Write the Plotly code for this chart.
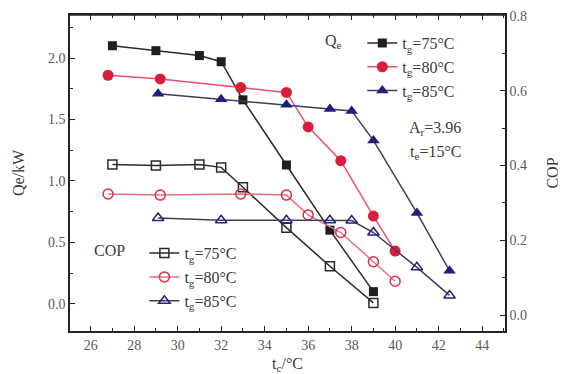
import plotly.graph_objects as go

# Condensing temperature tc (°C) per series
tc_75 = [27, 29, 31, 32, 33, 35, 37, 39]
tc_80 = [26.8, 29.2, 32.9, 35, 36, 37.5, 39, 40]
tc_85 = [29.1, 32, 35, 37, 38, 39, 41, 42.5]

# Cooling capacity Qe (kW)
qe_75 = [2.10, 2.06, 2.02, 1.97, 1.66, 1.13, 0.60, 0.10]
qe_80 = [1.86, 1.83, 1.76, 1.72, 1.44, 1.165, 0.715, 0.43]
qe_85 = [1.71, 1.665, 1.62, 1.585, 1.57, 1.33, 0.74, 0.27]

# COP
cop_75 = [0.403, 0.400, 0.403, 0.395, 0.342, 0.234, 0.131, 0.033]
cop_80 = [0.324, 0.321, 0.324, 0.321, 0.268, 0.221, 0.143, 0.091]
cop_85 = [0.260, 0.254, 0.254, 0.254, 0.253, 0.221, 0.128, 0.053]

labels = ["t<sub>g</sub>=75°C", "t<sub>g</sub>=80°C", "t<sub>g</sub>=85°C"]
x_ticks = [26, 28, 30, 32, 34, 36, 38, 40, 42, 44]

SERIF = "Liberation Serif"
TXT = "#3a3a3a"
FS = 16

fig = go.Figure()

qe_style = [
    dict(line=dict(color="#2b2b2b", width=1.5), marker=dict(symbol="square", size=9, color="#1e1e1e")),
    dict(line=dict(color="#e8506a", width=1.5), marker=dict(symbol="circle", size=11, color="#d81e3c")),
    dict(line=dict(color="#3d3d5c", width=1.5), marker=dict(symbol="triangle-up", size=11, color="#1f1f7a")),
]
cop_style = [
    dict(line=dict(color="#2b2b2b", width=1.5), marker=dict(symbol="square-open", size=9, color="#2b2b2b", line=dict(width=1.5))),
    dict(line=dict(color="#e8707f", width=1.5), marker=dict(symbol="circle-open", size=10, color="#d8304a", line=dict(width=1.5))),
    dict(line=dict(color="#3d3d5c", width=1.5), marker=dict(symbol="triangle-up-open", size=10, color="#24247a", line=dict(width=1.5))),
]

for xs, ys, lab, st in zip([tc_75, tc_80, tc_85], [qe_75, qe_80, qe_85], labels, qe_style):
    fig.add_trace(go.Scatter(x=xs, y=ys, mode="lines+markers", name=lab,
                             legend="legend", yaxis="y", **st))
for xs, ys, lab, st in zip([tc_75, tc_80, tc_85], [cop_75, cop_80, cop_85], labels, cop_style):
    fig.add_trace(go.Scatter(x=xs, y=ys, mode="lines+markers", name=lab,
                             legend="legend2", yaxis="y2", **st))

axis_common = dict(showline=True, linecolor="#222", linewidth=1.5, ticks="inside",
                   tickcolor="#222", ticklen=5, showgrid=False, zeroline=False,
                   automargin=False,
                   tickfont=dict(family=SERIF, size=14, color="#5a5a5a"))

def ann(text, x, y):
    return dict(text=text, x=x, y=y, xref="paper", yref="paper", xanchor="center",
                yanchor="middle", showarrow=False, font=dict(family=SERIF, size=FS, color=TXT))

fig.update_layout(
    width=558, height=366,
    margin=dict(l=62, r=61, t=7, b=43, autoexpand=False),
    paper_bgcolor="white", plot_bgcolor="white",
    font=dict(family=SERIF, color=TXT),
    xaxis=dict(range=[25.05, 45.05], tickvals=x_ticks, mirror="ticks",
               minor=dict(dtick=1, tick0=25, ticks="inside", ticklen=3, tickcolor="#222"),
               title=dict(text="t<sub>c</sub>/°C", font=dict(family=SERIF, size=FS, color=TXT), standoff=6),
               **axis_common),
    yaxis=dict(range=[-0.22, 2.35], tickvals=[0, 0.5, 1.0, 1.5, 2.0], tickformat=".1f",
               minor=dict(dtick=0.25, tick0=0, ticks="inside", ticklen=3, tickcolor="#222"),
               title=dict(text="Qe/kW", font=dict(family=SERIF, size=FS, color=TXT), standoff=19),
               **axis_common),
    yaxis2=dict(range=[-0.042, 0.802], overlaying="y", side="right",
                tickvals=[0, 0.2, 0.4, 0.6, 0.8], tickformat=".1f",
                minor=dict(dtick=0.1, tick0=0, ticks="inside", ticklen=3, tickcolor="#222"),
                title=dict(text="COP", font=dict(family=SERIF, size=FS, color=TXT), standoff=21),
                **axis_common),
    legend=dict(x=0.672, y=0.965, xanchor="left", yanchor="top", bgcolor="rgba(0,0,0,0)",
                font=dict(family=SERIF, size=FS, color=TXT), itemwidth=30,
                tracegroupgap=0, itemclick=False),
    legend2=dict(x=0.171, y=0.30, xanchor="left", yanchor="top", bgcolor="rgba(0,0,0,0)",
                 font=dict(family=SERIF, size=FS, color=TXT), itemwidth=30,
                 tracegroupgap=0, itemclick=False),
    showlegend=True,
    shapes=[dict(type="line", xref="paper", yref="paper", x0=0, x1=1, y0=1, y1=1,
                 line=dict(color="#222", width=1.5))],
    annotations=[
        ann("Q<sub>e</sub>", 0.605, 0.915),
        ann("COP", 0.09, 0.256),
        ann("A<sub>r</sub>=3.96", 0.839, 0.642),
        ann("t<sub>e</sub>=15°C", 0.841, 0.566),
    ],
)

fig.write_html("out.html")
